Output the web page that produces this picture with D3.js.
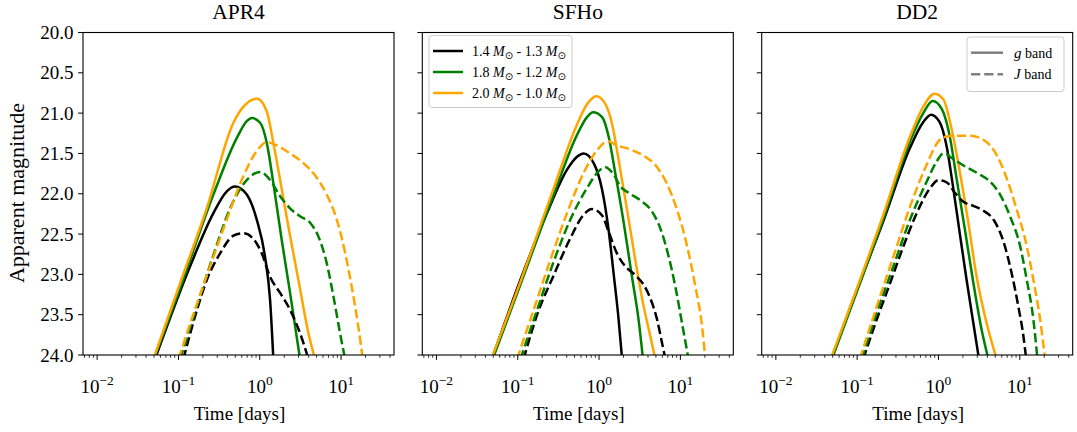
<!DOCTYPE html>
<html><head><meta charset="utf-8">
<script src="https://cdn.jsdelivr.net/npm/d3@7"></script>
<style>
body{margin:0;background:#fff}
svg{display:block}
text{font-family:"Liberation Serif","Times New Roman",serif;fill:#000}
</style>
</head><body>
<svg id="c" width="1077" height="432"></svg>
<script>
// ---------------- DATA ----------------
const panelNames = ["APR4", "SFHo", "DD2"];
const binaryLabels = [["1.4", "1.3"], ["1.8", "1.2"], ["2.0", "1.0"]];
const bandLabels = ["g", "J"];
const xTicks = [0.01, 0.1, 1, 10];
const xTickExp = ["\u22122", "\u22121", "0", "1"];
const yTicks = [20.0, 20.5, 21.0, 21.5, 22.0, 22.5, 23.0, 23.5, 24.0];

// [time (days), apparent magnitude]
const APR4_g_14 = [[0.0515,24.05],[0.139,22.90],[0.269,22.24],[0.393,21.97],[0.497,21.91],[0.692,22.01],[0.918,22.32],[1.16,22.78],[1.34,23.32],[1.47,24.05]];
const APR4_g_18 = [[0.050,24.05],[0.105,23.17],[0.269,22.01],[0.521,21.31],[0.692,21.10],[0.796,21.06],[1.01,21.12],[1.22,21.37],[1.47,21.87],[1.86,22.57],[2.36,23.23],[3.13,24.05]];
const APR4_g_20 = [[0.0492,24.05],[0.1047,23.11],[0.223,22.18],[0.474,21.12],[0.630,20.92],[0.918,20.82],[1.22,20.98],[1.47,21.37],[1.78,21.83],[2.25,22.41],[2.99,23.07],[3.97,23.73],[4.78,24.05]];
const APR4_J_14 = [[0.115,24.05],[0.160,23.52],[0.223,23.07],[0.325,22.74],[0.474,22.52],[0.630,22.49],[0.835,22.56],[1.06,22.74],[1.34,23.03],[1.78,23.23],[2.36,23.44],[3.13,23.73],[3.97,24.05]];
const APR4_J_18 = [[0.105,24.05],[0.168,23.40],[0.269,22.76],[0.432,22.18],[0.692,21.83],[1.01,21.73],[1.34,21.83],[1.78,22.03],[2.36,22.18],[3.13,22.28],[4.16,22.36],[5.26,22.53],[6.66,22.86],[8.05,23.27],[9.72,23.73],[11.2,24.05]];
const APR4_J_20 = [[0.100,24.05],[0.153,23.49],[0.245,22.90],[0.393,22.32],[0.630,21.78],[0.918,21.47],[1.22,21.36],[1.62,21.40],[2.36,21.50],[3.44,21.62],[5.02,21.80],[6.66,22.01],[8.85,22.32],[11.2,22.73],[13.5,23.15],[16.3,23.65],[18.5,24.05]];

const SFHo_g_14 = [[0.0482,24.05],[0.1076,23.07],[0.229,22.24],[0.404,21.70],[0.536,21.54],[0.647,21.50],[0.859,21.62],[1.09,21.95],[1.31,22.45],[1.51,22.99],[1.74,23.56],[1.92,24.05]];
const SFHo_g_18 = [[0.0492,24.05],[0.1076,23.13],[0.277,22.01],[0.536,21.27],[0.711,21.05],[0.843,20.99],[1.09,21.05],[1.31,21.29],[1.58,21.74],[2.01,22.36],[2.54,23.03],[3.07,23.57],[3.47,24.05]];
const SFHo_g_20 = [[0.0473,24.05],[0.108,23.09],[0.277,21.93],[0.536,21.14],[0.711,20.89],[0.927,20.79],[1.20,20.89],[1.45,21.14],[1.74,21.58],[2.21,22.20],[2.79,22.82],[3.54,23.40],[4.28,23.77],[4.92,24.05]];
const SFHo_J_14 = [[0.118,24.05],[0.173,23.50],[0.277,23.01],[0.444,22.55],[0.647,22.26],[0.818,22.19],[1.09,22.27],[1.31,22.47],[1.66,22.74],[2.10,22.90],[2.79,23.01],[3.54,23.13],[4.28,23.30],[5.17,23.56],[5.95,23.85],[6.54,24.05]];
const SFHo_J_18 = [[0.108,24.05],[0.173,23.44],[0.277,22.84],[0.444,22.32],[0.711,21.93],[0.99,21.72],[1.19,21.67],[1.51,21.76],[1.83,21.91],[2.31,21.99],[3.22,22.08],[4.48,22.22],[5.67,22.43],[7.18,22.78],[8.67,23.15],[10.5,23.61],[12.6,24.05]];
const SFHo_J_20 = [[0.098,24.05],[0.157,23.44],[0.252,22.82],[0.404,22.24],[0.647,21.74],[0.944,21.46],[1.28,21.35],[1.66,21.40],[2.42,21.45],[3.54,21.53],[5.17,21.67],[6.86,21.88],[9.11,22.20],[12.1,22.65],[15.3,23.15],[18.5,23.65],[20.3,24.05]];

const DD2_g_14 = [[0.0487,24.05],[0.0817,23.42],[0.210,22.34],[0.447,21.43],[0.651,21.11],[0.811,21.02],[1.03,21.11],[1.26,21.41],[1.52,21.93],[1.84,22.51],[2.22,23.07],[2.69,23.61],[3.15,24.05]];
const DD2_g_18 = [[0.0487,24.05],[0.210,22.31],[0.447,21.35],[0.651,21.00],[0.849,20.85],[1.10,20.95],[1.39,21.31],[1.67,21.81],[2.12,22.45],[2.69,23.11],[3.40,23.69],[4.11,24.05]];
const DD2_g_20 = [[0.0473,24.05],[0.210,22.26],[0.447,21.29],[0.651,20.92],[0.891,20.76],[1.15,20.83],[1.46,21.21],[1.84,21.74],[2.33,22.36],[2.95,23.03],[3.92,23.61],[5.20,24.05]];
const DD2_J_14 = [[0.119,24.05],[0.174,23.56],[0.254,23.11],[0.371,22.65],[0.541,22.24],[0.789,21.93],[1.0,21.83],[1.27,21.86],[1.60,21.99],[2.03,22.10],[2.69,22.15],[3.57,22.21],[4.74,22.32],[6.29,22.59],[7.96,22.99],[9.61,23.40],[11.1,23.77],[12.0,24.05]];
const DD2_J_18 = [[0.114,24.05],[0.174,23.48],[0.279,22.90],[0.447,22.32],[0.716,21.85],[0.951,21.60],[1.15,21.50],[1.53,21.57],[2.03,21.65],[2.96,21.74],[4.32,21.85],[5.73,22.01],[7.60,22.28],[10.1,22.65],[12.2,23.07],[14.7,23.56],[16.5,24.05]];
const DD2_J_20 = [[0.108,24.05],[0.174,23.40],[0.279,22.78],[0.447,22.16],[0.716,21.64],[1.0,21.35],[1.27,21.29],[1.68,21.28],[2.45,21.28],[3.57,21.33],[5.21,21.52],[6.92,21.81],[9.19,22.20],[12.2,22.65],[14.7,23.07],[17.8,23.56],[20.5,24.05]];

const panelSeries = [
  [[APR4_g_14, APR4_g_18, APR4_g_20], [APR4_J_14, APR4_J_18, APR4_J_20]],
  [[SFHo_g_14, SFHo_g_18, SFHo_g_20], [SFHo_J_14, SFHo_J_18, SFHo_J_20]],
  [[DD2_g_14, DD2_g_18, DD2_g_20], [DD2_J_14, DD2_J_18, DD2_J_20]]
];

// ---------------- STYLE / LAYOUT ----------------
const colors = ["#000000", "#008000", "#FFA500"];
const dashes = [null, "9.25,4"];
const panelLeft = [83, 422.3, 761.7];
const panelW = 311, plotTop = 32.5, plotBottom = 355;
const xDomain = [Math.pow(10, -2.174), Math.pow(10, 1.651)];

const svg = d3.select("#c");
const defs = svg.append("defs");

panelNames.forEach((name, p) => {
  const L = panelLeft[p];
  const x = d3.scaleLog().domain(xDomain).range([L, L + panelW]);
  const y = d3.scaleLinear().domain([20, 24]).range([plotTop, plotBottom]);
  const g = svg.append("g");

  defs.append("clipPath").attr("id", "clip" + p)
    .append("rect").attr("x", L).attr("y", plotTop).attr("width", panelW).attr("height", plotBottom - plotTop);

  // lines
  const line = d3.line().x(d => x(d[0])).y(d => y(d[1])).curve(d3.curveMonotoneX);
  const lg = g.append("g").attr("clip-path", `url(#clip${p})`);
  panelSeries[p].forEach((band, b) => {
    band.forEach((series, s) => {
      lg.append("path").datum(series)
        .attr("d", line)
        .attr("fill", "none")
        .attr("stroke", colors[s])
        .attr("stroke-width", 2.5)
        .attr("stroke-dasharray", dashes[b])
        .attr("stroke-linecap", "butt");
    });
  });

  // x axis ticks (major + minor)
  const xa = g.append("g");
  const minor = [];
  for (let e = -3; e <= 2; e++) for (let k = 2; k <= 9; k++) {
    const v = k * Math.pow(10, e);
    if (v >= xDomain[0] && v <= xDomain[1]) minor.push(v);
  }
  minor.forEach(v => xa.append("line").attr("x1", x(v)).attr("x2", x(v)).attr("y1", plotBottom).attr("y2", plotBottom + 2.8).attr("stroke", "#000").attr("stroke-width", 0.8));
  xTicks.forEach((v, i) => {
    xa.append("line").attr("x1", x(v)).attr("x2", x(v)).attr("y1", plotBottom).attr("y2", plotBottom + 4.9).attr("stroke", "#000").attr("stroke-width", 1);
    const t = xa.append("text").attr("x", x(v)).attr("y", 393).attr("text-anchor", "middle").style("font-size", "19px");
    t.append("tspan").text("10");
    t.append("tspan").attr("dy", -8).style("font-size", "13.5px").text(xTickExp[i]);
  });

  // y axis ticks
  yTicks.forEach(v => {
    g.append("line").attr("x1", L - 4.9).attr("x2", L).attr("y1", y(v)).attr("y2", y(v)).attr("stroke", "#000").attr("stroke-width", 1);
    if (p === 0) {
      g.append("text").attr("x", L - 9.5).attr("y", y(v)).attr("dy", "0.35em").attr("text-anchor", "end").style("font-size", "19px").text(v.toFixed(1));
    }
  });

  // frame
  g.append("rect").attr("x", L).attr("y", plotTop).attr("width", panelW).attr("height", plotBottom - plotTop)
    .attr("fill", "none").attr("stroke", "#000").attr("stroke-width", 1.1);

  // title & x label
  g.append("text").attr("x", L + panelW / 2).attr("y", 18.5).attr("text-anchor", "middle").style("font-size", "21.5px").text(name);
  g.append("text").attr("x", L + panelW / 2 + 1).attr("y", 420).attr("text-anchor", "middle").style("font-size", "19px").text("Time [days]");
});

// y label
svg.append("text").attr("transform", "translate(24,193) rotate(-90)").attr("text-anchor", "middle").style("font-size", "22px").text("Apparent magnitude");

// legend 1 (binaries) in SFHo panel
const leg1 = svg.append("g");
leg1.append("rect").attr("x", 429).attr("y", 35.5).attr("width", 143).attr("height", 72).attr("rx", 3)
  .attr("fill", "#fff").attr("fill-opacity", 0.8).attr("stroke", "#cccccc").attr("stroke-width", 1);
binaryLabels.forEach((bl, i) => {
  const yy = 51 + i * 21;
  leg1.append("line").attr("x1", 433).attr("x2", 463).attr("y1", yy).attr("y2", yy).attr("stroke", colors[i]).attr("stroke-width", 2.5);
  const t = leg1.append("text").attr("x", 472).attr("y", yy + 5).style("font-size", "14px");
  t.append("tspan").text(bl[0] + " ");
  t.append("tspan").style("font-style", "italic").text("M");
  t.append("tspan").attr("dy", 3).style("font-size", "10px").style("font-family", "DejaVu Sans").text("\u2299");
  t.append("tspan").attr("dy", -3).text(" - " + bl[1] + " ");
  t.append("tspan").style("font-style", "italic").text("M");
  t.append("tspan").attr("dy", 3).style("font-size", "10px").style("font-family", "DejaVu Sans").text("\u2299");
});

// legend 2 (bands) in DD2 panel
const leg2 = svg.append("g");
leg2.append("rect").attr("x", 967).attr("y", 37).attr("width", 97).attr("height", 54.5).attr("rx", 3)
  .attr("fill", "#fff").attr("fill-opacity", 0.8).attr("stroke", "#cccccc").attr("stroke-width", 1);
bandLabels.forEach((bl, i) => {
  const yy = 52.7 + i * 21.6;
  leg2.append("line").attr("x1", 971).attr("x2", 1003).attr("y1", yy).attr("y2", yy).attr("stroke", "#808080").attr("stroke-width", 2.5).attr("stroke-dasharray", dashes[i]);
  const t = leg2.append("text").attr("x", 1014).attr("y", yy + 5).style("font-size", "14px");
  t.append("tspan").style("font-style", "italic").style("font-size", "15px").text(bl);
  t.append("tspan").text(" band");
});
</script>
</body></html>
